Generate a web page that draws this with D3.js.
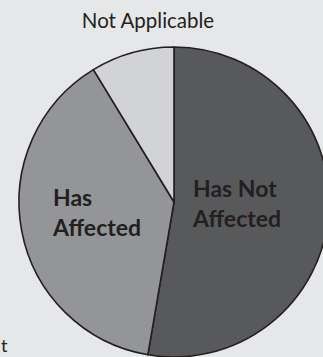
<!DOCTYPE html>
<html>
<head>
<meta charset="utf-8">
<script src="https://cdn.jsdelivr.net/npm/d3@7"></script>
<style>
  html, body { margin: 0; padding: 0; background: #e6e7e8; }
  svg { display: block; }
</style>
</head>
<body>
<div id="chart"></div>
<script>
// slices, clockwise from 12 o'clock
let categories = ['Has Not Affected', 'Has Affected', 'Not Applicable'];
let values = [52.7, 38.6, 8.7];
let fills = ['#58595b', '#939598', '#d1d3d4'];

let fontFamily = 'Lato, "Open Sans", sans-serif';

function draw_pie() {
    let svgWidth = 323
    let svgHeight = 357
    let cx = 174, cy = 202, radius = 155

    let svg = d3.select('#chart').append('svg')
        .attr('width', svgWidth)
        .attr('height', svgHeight)

    svg.append('rect')
        .attr('width', svgWidth)
        .attr('height', svgHeight)
        .attr('fill', '#e6e7e8')

    let pie = d3.pie().sort(null).value(d => d)
    let arc = d3.arc().innerRadius(0).outerRadius(radius)

    let g = svg.append('g')
        .attr('transform', `translate(${cx}, ${cy})`)

    g.selectAll('path')
        .data(pie(values))
        .enter()
        .append('path')
        .attr('d', arc)
        .attr('fill', (d, i) => fills[i])
        .attr('stroke', '#231f20')
        .attr('stroke-width', 1.6)
        .attr('stroke-linejoin', 'round')

    // slice labels
    let labels = [
        {lines: ['Has Not', 'Affected'], x: 193, y: 197},
        {lines: ['Has', 'Affected'], x: 53, y: 206}
    ]
    labels.forEach(l => {
        let t = svg.append('text')
            .attr('font-family', fontFamily)
            .attr('font-weight', 'bold')
            .attr('font-size', '23px')
            .attr('fill', '#231f20')
        l.lines.forEach((s, j) => {
            t.append('tspan')
                .attr('x', l.x)
                .attr('y', l.y + j * 29.5)
                .text(s)
        })
    })

    svg.append('text')
        .attr('x', 148)
        .attr('y', 28)
        .attr('text-anchor', 'middle')
        .attr('font-family', fontFamily)
        .attr('font-size', '20.5px')
        .attr('fill', '#231f20')
        .text(categories[2])

    // partly visible text at bottom left
    svg.append('text')
        .attr('x', 1)
        .attr('y', 352)
        .attr('font-family', fontFamily)
        .attr('font-size', '18px')
        .attr('fill', '#231f20')
        .text('t')
}

draw_pie()
</script>
</body>
</html>
